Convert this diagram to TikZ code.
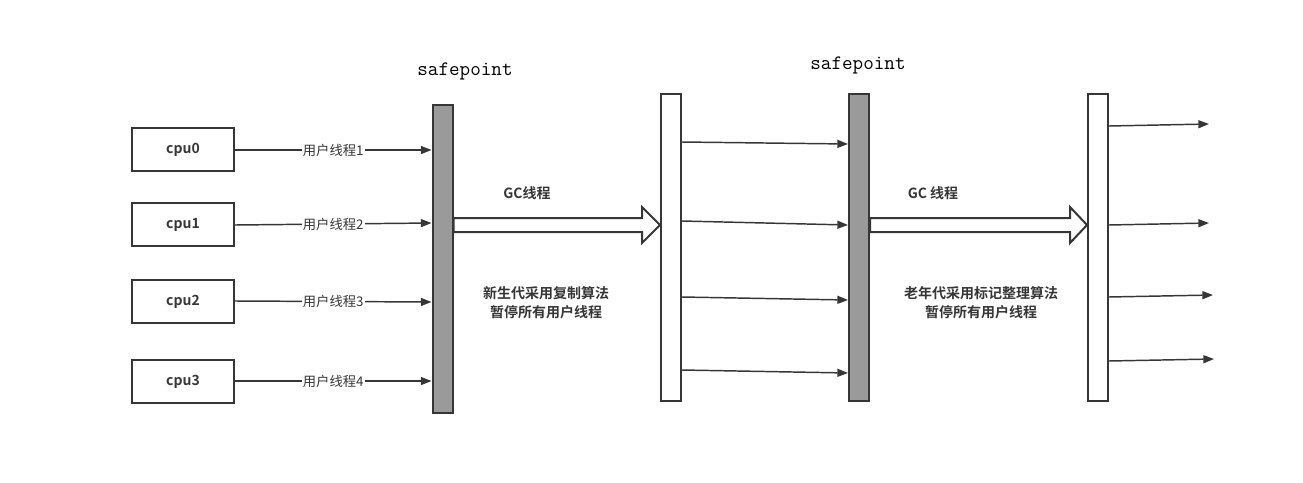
\documentclass[tikz,border=0pt]{standalone}
\usepackage{fontspec}
\newfontfamily\cjk{Noto Sans CJK SC}
\newfontfamily\cjkb{Noto Sans CJK SC Bold}
\usetikzlibrary{arrows.meta,calc}
\definecolor{ln}{HTML}{363636}
\definecolor{barfill}{HTML}{9A9A9A}
\begin{document}
\begin{tikzpicture}[x=0.75pt,y=-0.75pt,
  cpubox/.style={draw=ln,line width=1.5pt,minimum width=76.5pt,minimum height=32pt,inner sep=0pt,font=\cjkb\fontsize{10.5pt}{12pt}\selectfont,text=ln},
  graybar/.style={draw=ln,line width=1.5pt,fill=barfill,minimum width=15pt,inner sep=0pt},
  whitebar/.style={draw=ln,line width=1.5pt,fill=white,minimum width=15pt,inner sep=0pt},
  conn/.style={draw=ln,line width=1.1pt,-{Triangle[length=8pt,width=6pt]}},
  lbl/.style={fill=white,inner sep=1pt,font=\cjk\fontsize{10pt}{11pt}\selectfont,text=ln},
  blockarrow/.style={draw=ln,line width=1.5pt,fill=white,line join=miter},
  sp/.style={font=\ttfamily\fontsize{15.4pt}{17pt}\selectfont},
  gclbl/.style={font=\cjkb\fontsize{10.5pt}{12pt}\selectfont,text=ln},
  note/.style={font=\cjkb\fontsize{10.5pt}{14pt}\selectfont,text=ln,align=center}]
\useasboundingbox (0,0) rectangle (1303,482);
% cpu boxes
\node[cpubox] (cpu0) at (183,149.5) {cpu0};
\node[cpubox] (cpu1) at (183,224.5) {cpu1};
\node[cpubox] (cpu2) at (183,301.5) {cpu2};
\node[cpubox] (cpu3) at (183,381.5) {cpu3};
% bars
\node[graybar,minimum height=231pt] (bar1) at (442.5,259) {};
\node[whitebar,minimum height=230pt] (bar2) at (671,247.5) {};
\node[graybar,minimum height=230pt] (bar3) at (859,247.5) {};
\node[whitebar,minimum height=230pt] (bar4) at (1098,247.5) {};
% safepoint labels
\node[sp] (sp1) at (465,71) {safepoint};
\node[sp] (sp2) at (858,65) {safepoint};
% cpu -> bar1
\draw[conn] (cpu0.east |- 0,150) -- node[lbl]{用户线程1} (bar1.west |- 0,150);
\draw[conn] (cpu1.east |- 0,225) -- node[lbl]{用户线程2} (bar1.west |- 0,223);
\draw[conn] (cpu2.east |- 0,301) -- node[lbl]{用户线程3} (bar1.west |- 0,302);
\draw[conn] (cpu3.east |- 0,381) -- node[lbl]{用户线程4} (bar1.west |- 0,381);
% block arrows
\draw[blockarrow] (bar1.east |- 0,218) -- (642,218) -- (642,207) -- (bar2.west |- 0,225) -- (642,243) -- (642,232) -- (bar1.east |- 0,232) -- cycle;
\draw[blockarrow] (bar3.east |- 0,218) -- (1070,218) -- (1070,207) -- (bar4.west |- 0,225) -- (1070,243) -- (1070,232) -- (bar3.east |- 0,232) -- cycle;
\node[gclbl] (gc1) at (527,193) {GC线程};
\node[gclbl] (gc2) at (933,193) {GC 线程};
\node[note] (n1) at (546,303) {新生代采用复制算法\\暂停所有用户线程};
\node[note] (n2) at (981,303) {老年代采用标记整理算法\\暂停所有用户线程};
% bar2 -> bar3
\draw[conn] (bar2.east |- 0,142) -- (bar3.west |- 0,144);
\draw[conn] (bar2.east |- 0,221) -- (bar3.west |- 0,225);
\draw[conn] (bar2.east |- 0,297) -- (bar3.west |- 0,300);
\draw[conn] (bar2.east |- 0,370) -- (bar3.west |- 0,373);
% bar4 outgoing
\coordinate (o1) at (1209,124);
\coordinate (o2) at (1209,223);
\coordinate (o3) at (1213,295);
\coordinate (o4) at (1214,359);
\draw[conn] (bar4.east |- 0,126) -- (o1);
\draw[conn] (bar4.east |- 0,225) -- (o2);
\draw[conn] (bar4.east |- 0,297) -- (o3);
\draw[conn] (bar4.east |- 0,361) -- (o4);
\end{tikzpicture}
\end{document}
